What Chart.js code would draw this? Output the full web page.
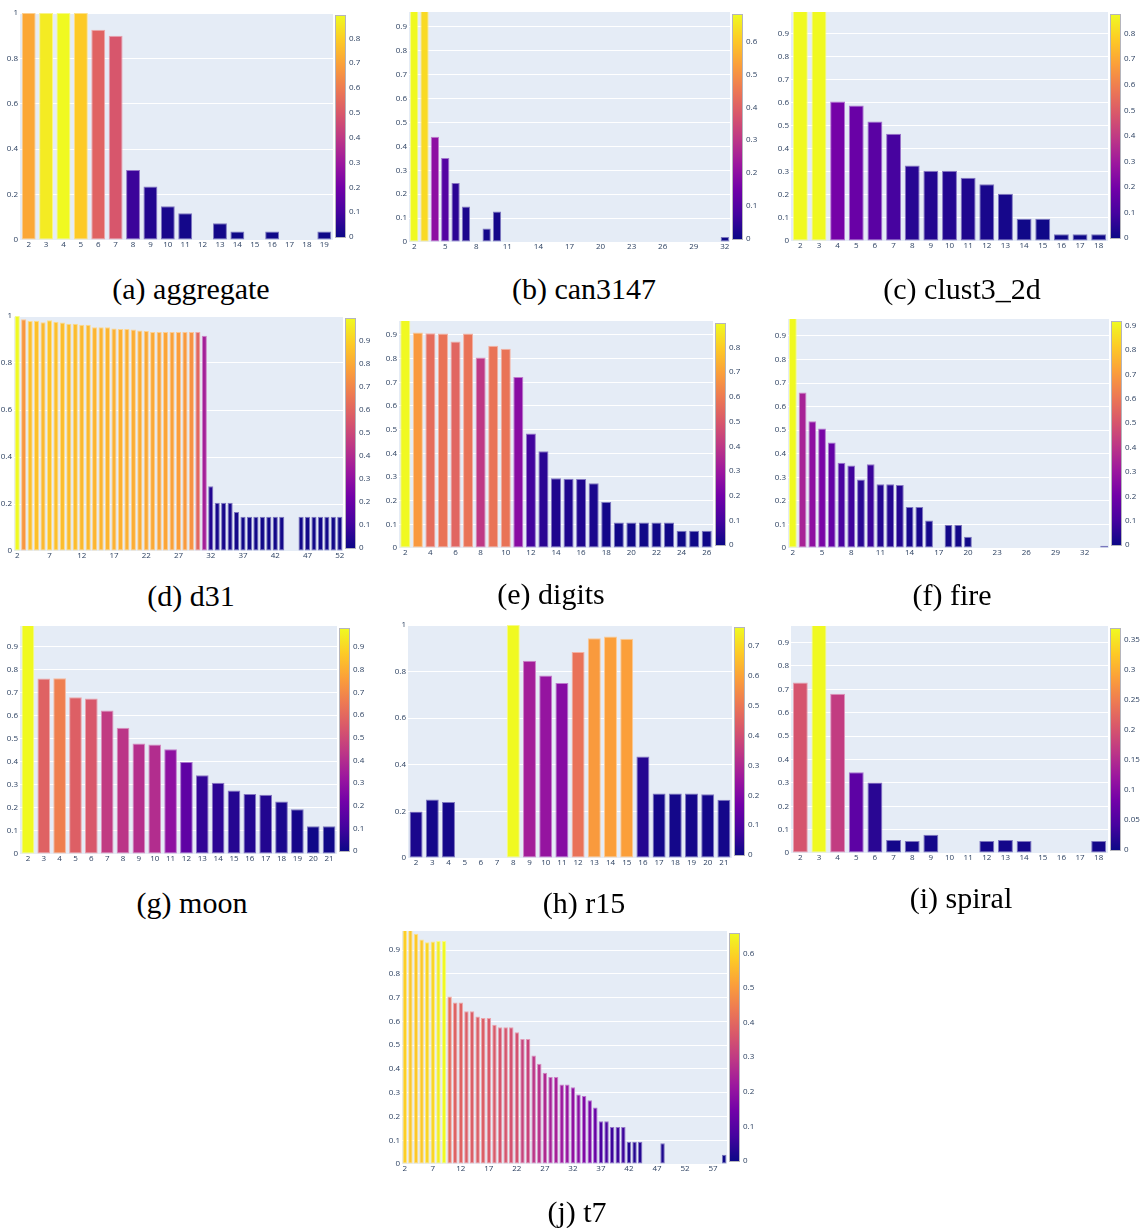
<!DOCTYPE html>
<html><head><meta charset="utf-8">
<script src="https://cdn.jsdelivr.net/npm/chart.js@4.4.1/dist/chart.umd.min.js"></script>
<style>
html,body{margin:0;padding:0;background:#fff;}
body{width:1140px;height:1228px;position:relative;overflow:hidden;}
.pane{position:absolute;}
.cap{position:absolute;width:300px;text-align:center;font-family:"Liberation Serif","Times New Roman",serif;font-size:30px;line-height:30px;color:#000;white-space:nowrap;}
</style></head><body>
<script>
// ---------------- data (k = number of clusters, h = bar height, c = colour value) ----------------
const aggregateK = [2,3,4,5,6,7,8,9,10,11,12,13,14,15,16,17,18,19];
const aggregateH = [1,1,1,1,0.926,0.9,0.308,0.236,0.149,0.118,0,0.074,0.037,0,0.037,0,0,0.037];
const aggregateC = [0.71,0.86,0.89,0.79,0.53,0.49,0.08,0.035,0.02,0.012,0,0.01,0.003,0,0.003,0,0,0.003];

const can3147K = [2,3,4,5,6,7,8,9,10,11,12,13,14,15,16,17,18,19,20,21,22,23,24,25,26,27,28,29,30,31,32];
const can3147H = [1,1,0.44,0.351,0.247,0.148,0,0.056,0.128,0,0,0,0,0,0,0,0,0,0,0,0,0,0,0,0,0,0,0,0,0,0.021];
const can3147C = [0.68,0.63,0.2,0.1,0.04,0.02,0,0.01,0.01,0,0,0,0,0,0,0,0,0,0,0,0,0,0,0,0,0,0,0,0,0,0];

const clust3K = [2,3,4,5,6,7,8,9,10,11,12,13,14,15,16,17,18];
const clust3H = [1,1,0.605,0.588,0.518,0.465,0.327,0.305,0.305,0.274,0.246,0.205,0.097,0.097,0.029,0.029,0.029];
const clust3C = [0.873,0.873,0.2,0.175,0.14,0.1,0.045,0.035,0.035,0.03,0.02,0.015,0.005,0.005,0.003,0.003,0.003];

const d31K = [2,3,4,5,6,7,8,9,10,11,12,13,14,15,16,17,18,19,20,21,22,23,24,25,26,27,28,29,30,31,32,33,34,35,36,37,38,39,40,41,42,43,44,45,46,47,48,49,50,51,52];
const d31H = [1,0.986,0.979,0.98,0.973,0.982,0.976,0.972,0.967,0.967,0.963,0.963,0.952,0.952,0.952,0.947,0.945,0.945,0.943,0.938,0.936,0.932,0.932,0.932,0.932,0.932,0.932,0.932,0.932,0.916,0.276,0.205,0.205,0.205,0.166,0.146,0.146,0.146,0.146,0.146,0.146,0.146,0,0,0.146,0.146,0.146,0.146,0.146,0.146,0.146];
const d31C = [0.995,0.75,0.86,0.86,0.84,0.87,0.86,0.85,0.85,0.85,0.84,0.84,0.83,0.83,0.83,0.82,0.82,0.82,0.81,0.81,0.8,0.8,0.79,0.79,0.78,0.77,0.76,0.74,0.6,0.36,0.04,0.02,0.02,0.02,0.015,0.01,0.01,0.01,0.01,0.01,0.01,0.01,0,0,0.01,0.01,0.01,0.01,0.01,0.01,0.01];

const digitsK = [2,3,4,5,6,7,8,9,10,11,12,13,14,15,16,17,18,19,20,21,22,23,24,25,26];
const digitsH = [1,0.91,0.907,0.906,0.872,0.906,0.805,0.854,0.842,0.722,0.484,0.409,0.295,0.293,0.291,0.274,0.194,0.108,0.108,0.108,0.108,0.108,0.073,0.073,0.073];
const digitsC = [0.895,0.68,0.56,0.58,0.54,0.58,0.4,0.58,0.58,0.25,0.09,0.05,0.03,0.03,0.03,0.025,0.01,0.005,0.005,0.005,0.005,0.005,0.003,0.003,0.003];

const fireK = [2,3,4,5,6,7,8,9,10,11,12,13,14,15,16,17,18,19,20,21,22,23,24,25,26,27,28,29,30,31,32,33,34];
const fireH = [1,0.66,0.538,0.507,0.448,0.362,0.35,0.291,0.356,0.271,0.271,0.267,0.174,0.174,0.117,0,0.099,0.099,0.048,0,0,0,0,0,0,0,0,0,0,0,0,0,0.01];
const fireC = [0.915,0.34,0.27,0.22,0.17,0.11,0.09,0.05,0.08,0.04,0.04,0.04,0.02,0.02,0.015,0,0.01,0.01,0.005,0,0,0,0,0,0,0,0,0,0,0,0,0,0];

const moonK = [2,3,4,5,6,7,8,9,10,11,12,13,14,15,16,17,18,19,20,21];
const moonH = [1,0.762,0.763,0.681,0.675,0.623,0.548,0.48,0.475,0.455,0.4,0.342,0.309,0.276,0.26,0.257,0.228,0.194,0.121,0.121];
const moonC = [0.98,0.58,0.67,0.57,0.545,0.45,0.43,0.41,0.4,0.29,0.17,0.07,0.06,0.045,0.04,0.04,0.025,0.015,0.005,0.005];

const r15K = [2,3,4,5,6,7,8,9,10,11,12,13,14,15,16,17,18,19,20,21];
const r15H = [0.2,0.251,0.24,0,0,0,1,0.847,0.783,0.751,0.884,0.943,0.951,0.941,0.436,0.277,0.277,0.277,0.274,0.25];
const r15C = [0.02,0.01,0.01,0,0,0,0.76,0.27,0.24,0.21,0.49,0.58,0.59,0.59,0.035,0.01,0.01,0.01,0.01,0.01];

const spiralK = [2,3,4,5,6,7,8,9,10,11,12,13,14,15,16,17,18];
const spiralH = [0.729,1,0.681,0.345,0.302,0.056,0.051,0.078,0,0,0.051,0.056,0.051,0,0,0,0.051];
const spiralC = [0.2,0.367,0.17,0.062,0.02,0.005,0.005,0.005,0,0,0.005,0.005,0.005,0,0,0,0.005];

const t7K = [2,3,4,5,6,7,8,9,10,11,12,13,14,15,16,17,18,19,20,21,22,23,24,25,26,27,28,29,30,31,32,33,34,35,36,37,38,39,40,41,42,43,44,45,46,47,48,49,50,51,52,53,54,55,56,57,58,59];
const t7H = [1,1,0.968,0.944,0.933,0.936,0.938,0.938,0.705,0.679,0.679,0.642,0.642,0.62,0.614,0.614,0.586,0.575,0.575,0.575,0.554,0.526,0.526,0.456,0.422,0.384,0.366,0.366,0.334,0.334,0.323,0.292,0.286,0.268,0.238,0.18,0.18,0.156,0.156,0.156,0.094,0.094,0.094,0,0,0,0.087,0,0,0,0,0,0,0,0,0,0,0.039];
const t7C = [0.59,0.58,0.58,0.58,0.6,0.6,0.64,0.656,0.41,0.39,0.39,0.38,0.38,0.38,0.38,0.37,0.37,0.36,0.36,0.35,0.35,0.32,0.32,0.29,0.28,0.26,0.24,0.24,0.22,0.21,0.2,0.19,0.17,0.16,0.13,0.08,0.08,0.06,0.06,0.06,0.03,0.03,0.03,0,0,0,0.02,0,0,0,0,0,0,0,0,0,0,0];

const captions = ['(a) aggregate','(b) can3147','(c) clust3_2d','(d) d31','(e) digits','(f) fire','(g) moon','(h) r15','(i) spiral','(j) t7'];

// ---------------- colour scale ----------------
const plasma = ['#0d0887','#46039f','#7201a8','#9c179e','#bd3786','#d8576b','#ed7953','#fb9f3a','#fdca26','#f0f921'];
function hex(h){return [parseInt(h.slice(1,3),16),parseInt(h.slice(3,5),16),parseInt(h.slice(5,7),16)];}
function plasmaRGB(t){
  t=Math.max(0,Math.min(1,t)); const x=t*9; const i=Math.min(8,Math.floor(x)); const f=x-i;
  const a=hex(plasma[i]), b=hex(plasma[i+1]);
  return [0,1,2].map(j=>Math.round(a[j]+(b[j]-a[j])*f));
}
const rgbStr=c=>`rgb(${c[0]},${c[1]},${c[2]})`;
const lighten=(c,p)=>c.map(v=>Math.round(v+(255-v)*p));
const fmt=v=>String(+(+v).toFixed(3));

// ---------------- layout (plot-area boxes: left, top, right, bottom) ----------------
const panels = [
  {k:aggregateK,h:aggregateH,c:aggregateC,ymax:1,ystep:0.2,xstep:1,cstep:0.1,box:[20,13,333,240],cap:[191,289]},
  {k:can3147K,h:can3147H,c:can3147C,ymax:0.962,ystep:0.1,xstep:3,cstep:0.1,box:[409,12,730,242],cap:[584,289]},
  {k:clust3K,h:clust3H,c:clust3C,ymax:0.993,ystep:0.1,xstep:1,cstep:0.1,box:[791,12,1108,241],cap:[962,289]},
  {k:d31K,h:d31H,c:d31C,ymax:1,ystep:0.2,xstep:5,cstep:0.1,box:[14,316,343,551],cap:[191,596]},
  {k:digitsK,h:digitsH,c:digitsC,ymax:0.959,ystep:0.1,xstep:2,cstep:0.1,box:[399,321,713,548],cap:[551,594]},
  {k:fireK,h:fireH,c:fireC,ymax:0.972,ystep:0.1,xstep:3,cstep:0.1,box:[788,319,1109,548],cap:[952,595]},
  {k:moonK,h:moonH,c:moonC,ymax:0.99,ystep:0.1,xstep:1,cstep:0.1,box:[20,626,337,854],cap:[192,903]},
  {k:r15K,h:r15H,c:r15C,ymax:1,ystep:0.2,xstep:1,cstep:0.1,box:[408,625,732,858],cap:[584,903]},
  {k:spiralK,h:spiralH,c:spiralC,ymax:0.971,ystep:0.1,xstep:1,cstep:0.05,box:[791,626,1108,853],cap:[961,898]},
  {k:t7K,h:t7H,c:t7C,ymax:0.98,ystep:0.1,xstep:5,cstep:0.1,box:[402,931,727,1164],cap:[577,1212]}
];

const YW=30, CBW=44, XH=18, PT=8;
const tickFont={family:'"Open Sans", Arial, sans-serif', size:8};
const tickColor='#2a3f5f';

const bgPlugin={id:'bgPlot',beforeDraw(chart){const a=chart.chartArea,ctx=chart.ctx;ctx.save();ctx.fillStyle='#E5ECF6';ctx.fillRect(a.left,a.top,a.right-a.left,a.bottom-a.top);ctx.restore();}};

panels.forEach((p,idx)=>{
  const [L,T,R,B]=p.box; const W=R-L, H=B-T;
  const div=document.createElement('div'); div.className='pane';
  div.style.left=(L-YW)+'px'; div.style.top=(T-PT)+'px';
  const cw=W+YW+CBW, ch=H+PT+XH;
  div.style.width=cw+'px'; div.style.height=ch+'px';
  const cv=document.createElement('canvas'); cv.width=cw; cv.height=ch; cv.style.width=cw+'px'; cv.style.height=ch+'px';
  div.appendChild(cv); document.body.appendChild(div);

  const cap=document.createElement('div'); cap.className='cap'; cap.textContent=captions[idx];
  cap.style.left=(p.cap[0]-150)+'px'; cap.style.top=(p.cap[1]-15)+'px';
  document.body.appendChild(cap);

  const cmax=Math.max(...p.c);
  const inset=3*cmax/(H-6);
  const rgbs=p.c.map(v=>plasmaRGB(v/cmax));
  const k0=p.k[0];

  const cbPlugin={id:'cbar',afterDraw(chart){
    const s=chart.scales.cb, ctx=chart.ctx;
    const y0=s.getPixelForValue(0), y1=s.getPixelForValue(cmax);
    const x=chart.chartArea.right+3, w=9;
    const g=ctx.createLinearGradient(0,y0,0,y1);
    plasma.forEach((c,i)=>g.addColorStop(i/9,c));
    ctx.save(); ctx.fillStyle=g; ctx.fillRect(x,y1,w,y0-y1);
    ctx.strokeStyle='rgba(150,150,160,0.7)'; ctx.lineWidth=1; ctx.strokeRect(x-0.5,y1-0.5,w+1,y0-y1+1);
    ctx.restore();
  }};

  new Chart(cv,{
    type:'bar',
    data:{labels:p.k.map(String),datasets:[{
      data:p.h,
      backgroundColor:rgbs.map(rgbStr),
      borderColor:rgbs.map(c=>rgbStr(lighten(c,0.45))),
      borderWidth:ctx=>ctx.raw>0?1:0,
      borderSkipped:false,
      barPercentage:0.8, categoryPercentage:1
    }]},
    options:{
      responsive:false, animation:false, events:[],
      layout:{padding:{top:PT,left:0,right:0,bottom:0}},
      plugins:{legend:{display:false},tooltip:{enabled:false}},
      scales:{
        x:{type:'category',offset:true,grid:{display:false,drawTicks:false},border:{display:false},
           ticks:{autoSkip:false,maxRotation:0,minRotation:0,padding:0,font:tickFont,color:tickColor,
             callback(v){const lab=this.getLabelForValue(v);return ((+lab-k0)%p.xstep===0)?lab:'';}},
           afterFit(s){s.height=XH;s.paddingLeft=0;s.paddingRight=0;}},
        y:{type:'linear',position:'left',min:0,max:p.ymax,
           grid:{color:'#ffffff',lineWidth:1,drawTicks:false},border:{display:false},
           ticks:{stepSize:p.ystep,includeBounds:false,padding:2,font:tickFont,color:tickColor,callback:v=>fmt(v)},
           afterFit(s){s.width=YW;s.paddingTop=0;s.paddingBottom=0;}},
        cb:{type:'linear',position:'right',min:-inset,max:cmax+inset,
           grid:{display:false,drawTicks:false},border:{display:false},
           ticks:{stepSize:p.cstep,includeBounds:false,padding:16,font:tickFont,color:tickColor,callback:v=>fmt(v)},
           afterBuildTicks(s){s.ticks=s.ticks.filter(t=>t.value>=-1e-9&&t.value<=cmax+1e-9);},
           afterFit(s){s.width=CBW;s.paddingTop=0;s.paddingBottom=0;}}
      }
    },
    plugins:[bgPlugin,cbPlugin]
  });
});
</script>
</body></html>
